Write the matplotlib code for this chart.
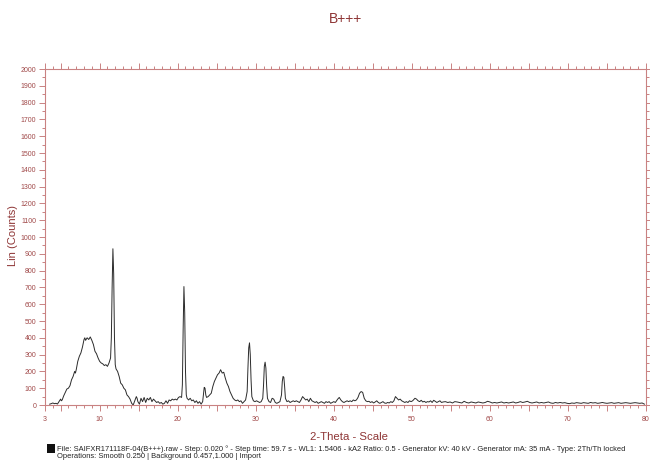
import matplotlib

matplotlib.use("Agg")

import matplotlib.pyplot as plt
from matplotlib.patches import Rectangle
from matplotlib.ticker import FixedLocator, MultipleLocator

# --------------------------------------------------------------------------- #
# Data
# --------------------------------------------------------------------------- #

two_theta = [
    3.6, 3.8, 4.0, 4.2, 4.4, 4.6, 4.8, 5.0, 5.1, 5.2,
    5.4, 5.6, 5.8, 6.0, 6.2, 6.4, 6.6, 6.8, 6.9, 7.0,
    7.2, 7.4, 7.6, 7.8, 8.0, 8.1, 8.2, 8.4, 8.6, 8.8,
    9.0, 9.2, 9.4, 9.6, 9.8, 10.0, 10.2, 10.4, 10.6, 10.8,
    11.0, 11.2, 11.4, 11.5, 11.6, 11.7, 11.8, 11.9, 12.0, 12.1,
    12.3, 12.5, 12.7, 12.9, 13.1, 13.3, 13.5, 13.7, 13.9, 14.1,
    14.3, 14.5, 14.7, 14.8, 14.9, 15.1, 15.3, 15.5, 15.7, 15.9,
    16.1, 16.3, 16.5, 16.7, 16.9, 17.1, 17.3, 17.5, 17.7, 17.9,
    18.1, 18.3, 18.5, 18.7, 18.9, 19.1, 19.3, 19.5, 19.7, 19.9,
    20.1, 20.3, 20.5, 20.6, 20.7, 20.8, 20.9, 21.0, 21.1, 21.2,
    21.4, 21.6, 21.8, 22.0, 22.2, 22.4, 22.6, 22.8, 23.0, 23.2,
    23.3, 23.4, 23.5, 23.6, 23.7, 23.9, 24.1, 24.3, 24.5, 24.7,
    24.9, 25.1, 25.3, 25.5, 25.7, 25.9, 26.1, 26.3, 26.5, 26.7,
    26.9, 27.1, 27.3, 27.5, 27.7, 27.9, 28.1, 28.3, 28.5, 28.7,
    28.9, 29.0, 29.1, 29.2, 29.3, 29.4, 29.5, 29.7, 29.9, 30.1,
    30.3, 30.5, 30.7, 30.9, 31.0, 31.1, 31.2, 31.3, 31.4, 31.5,
    31.7, 31.9, 32.1, 32.3, 32.5, 32.7, 32.9, 33.1, 33.3, 33.4,
    33.5, 33.6, 33.7, 33.8, 34.0, 34.2, 34.4, 34.6, 34.8, 35.0,
    35.2, 35.4, 35.6, 35.8, 36.0, 36.2, 36.4, 36.6, 36.8, 37.0,
    37.2, 37.4, 37.6, 37.8, 38.0, 38.2, 38.4, 38.6, 38.8, 39.0,
    39.2, 39.4, 39.6, 39.8, 40.0, 40.2, 40.5, 40.7, 40.9, 41.1,
    41.3, 41.5, 41.7, 41.9, 42.1, 42.3, 42.5, 42.7, 42.9, 43.1,
    43.3, 43.5, 43.7, 43.9, 44.1, 44.3, 44.5, 44.7, 44.9, 45.1,
    45.3, 45.5, 45.7, 45.9, 46.1, 46.3, 46.5, 46.7, 46.9, 47.1,
    47.3, 47.5, 47.7, 47.9, 48.1, 48.3, 48.5, 48.7, 48.9, 49.1,
    49.3, 49.5, 49.7, 49.9, 50.1, 50.4, 50.6, 50.8, 51.0, 51.2,
    51.4, 51.6, 51.8, 52.0, 52.2, 52.4, 52.6, 52.8, 53.0, 53.2,
    53.4, 53.6, 53.8, 54.0, 54.3, 54.6, 54.9, 55.2, 55.5, 55.8,
    56.1, 56.4, 56.7, 57.0, 57.3, 57.6, 57.9, 58.2, 58.5, 58.8,
    59.1, 59.4, 59.7, 60.0, 60.3, 60.6, 60.9, 61.2, 61.5, 61.8,
    62.1, 62.4, 62.7, 63.0, 63.3, 63.6, 63.9, 64.2, 64.5, 64.8,
    65.1, 65.4, 65.7, 66.0, 66.3, 66.6, 66.9, 67.2, 67.5, 67.8,
    68.1, 68.4, 68.7, 69.0, 69.3, 69.6, 69.9, 70.2, 70.5, 70.8,
    71.1, 71.4, 71.7, 72.0, 72.3, 72.6, 72.9, 73.2, 73.5, 73.8,
    74.1, 74.4, 74.7, 75.0, 75.3, 75.6, 75.9, 76.2, 76.5, 76.8,
    77.1, 77.4, 77.7, 78.0, 78.3, 78.6, 78.9, 79.2, 79.5, 79.8,
]

counts = [
    5, 8, 12, 8, 10, 6, 20, 35, 25, 30,
    55, 75, 95, 100, 115, 150, 170, 200, 190, 210,
    260, 290, 310, 345, 390, 400, 385, 400, 390, 405,
    385, 360, 320, 305, 280, 260, 250, 245, 235, 240,
    230, 250, 280, 400, 700, 930, 780, 400, 240, 215,
    200, 170, 130, 120, 100, 90, 60, 50, 35, 10,
    0, 25, 50, 40, 20, 5, 40, 20, 45, 15,
    40, 30, 45, 20, 35, 25, 15, 20, 10, 15,
    5, 10, 25, 10, 30, 25, 35, 30, 35, 30,
    45, 50, 45, 120, 450, 705, 550, 200, 60, 40,
    30, 40, 25, 30, 15, 25, 10, 20, 5, 20,
    60, 105, 100, 60, 45, 50, 60, 70, 110, 140,
    160, 180, 190, 210, 190, 195, 160, 130, 110, 80,
    60, 40, 30, 25, 30, 20, 25, 10, 20, 30,
    80, 220, 340, 370, 300, 150, 50, 25, 20, 25,
    20, 15, 20, 40, 120, 230, 255, 220, 110, 40,
    20, 15, 40, 35, 15, 10, 15, 20, 60, 140,
    170, 165, 110, 40, 20, 25, 15, 20, 25, 20,
    25, 20, 15, 30, 50, 40, 30, 35, 20, 40,
    25, 20, 15, 20, 10, 15, 20, 15, 10, 20,
    15, 20, 10, 15, 20, 15, 35, 45, 30, 20,
    15, 20, 25, 20, 25, 20, 30, 25, 30, 45,
    70, 80, 75, 40, 25, 20, 22, 15, 20, 12,
    18, 25, 15, 10, 15, 20, 12, 10, 15, 12,
    20, 15, 25, 50, 40, 30, 35, 25, 20, 15,
    20, 15, 25, 20, 25, 40, 35, 25, 20, 28,
    18, 22, 15, 20, 18, 25, 15, 28, 22, 15,
    20, 25, 15, 18, 20, 15, 18, 12, 20, 18,
    15, 12, 22, 15, 12, 18, 15, 12, 18, 15,
    12, 15, 22, 18, 12, 15, 12, 15, 18, 12,
    15, 12, 15, 18, 12, 15, 20, 15, 18, 22,
    15, 12, 15, 18, 12, 15, 12, 15, 18, 12,
    10, 15, 12, 15, 12, 14, 10, 8, 12, 10,
    14, 12, 10, 14, 12, 10, 15, 12, 14, 10,
    12, 15, 12, 10, 12, 14, 10, 12, 14, 10,
    12, 14, 12, 10, 12, 14, 12, 10, 12, 5,
]

x_major = [3, 5, 10, 15, 20, 25, 30, 35, 40, 45, 50, 55, 60, 65, 70, 75, 80]
x_labels = ["3", "", "10", "", "20", "", "30", "", "40", "", "50", "", "60", "",
            "70", "", "80"]
y_major = list(range(0, 2001, 100))

title = "B+++"
x_title = "2-Theta - Scale"
y_title = "Lin (Counts)"
footer_1 = ("File: SAIFXR171118F-04(B+++).raw - Step: 0.020 ° - Step time: 59.7 s - "
            "WL1: 1.5406 - kA2 Ratio: 0.5 - Generator kV: 40 kV - Generator mA: 35 mA - "
            "Type: 2Th/Th locked")
footer_2 = "Operations: Smooth 0.250 | Background 0.457,1.000 | Import"

assert len(two_theta) == len(counts)

# --------------------------------------------------------------------------- #
# Theme
# --------------------------------------------------------------------------- #

_AXIS = "#c98282"    # spines and ticks
_TICKTXT = "#a04848"
_TEXT = "#8e3535"
_LINE = "#2b2b2b"

plt.rcParams["font.family"] = ["Liberation Sans", "DejaVu Sans"]

fig = plt.figure(figsize=(6.5, 4.61), dpi=100, facecolor="white")
ax = fig.add_axes([45 / 650, 56 / 461, 601 / 650, 336 / 461])

ax.plot(two_theta, counts, color=_LINE, linewidth=0.7)

ax.set_xlim(3, 80)
ax.set_ylim(0, 2000)

ax.xaxis.set_major_locator(FixedLocator(x_major))
ax.set_xticklabels(x_labels)
ax.xaxis.set_minor_locator(MultipleLocator(1))
ax.yaxis.set_major_locator(FixedLocator(y_major))
ax.yaxis.set_minor_locator(MultipleLocator(50))

for side in ("left", "right", "top", "bottom"):
    ax.spines[side].set_color(_AXIS)
    ax.spines[side].set_linewidth(0.8)

ax.tick_params(which="both", direction="out", color=_AXIS, width=0.7,
               top=True, right=True, labeltop=False, labelright=False)
ax.tick_params(which="major", length=4.2, labelsize=5, labelcolor=_TICKTXT)
ax.tick_params(which="minor", length=2.3)
ax.tick_params(axis="x", which="major", pad=4)
ax.tick_params(axis="y", which="major", pad=2)

fig.text(345 / 650, 1 - 19 / 461, title, ha="center", va="center",
         fontsize=10, color=_TEXT)
fig.text(349 / 650, 1 - 437 / 461, x_title, ha="center", va="center",
         fontsize=8.2, color=_TEXT)
fig.text(13 / 650, 1 - 236 / 461, y_title, ha="center", va="center",
         rotation=90, fontsize=8, color=_TEXT)

# little instrument icon in front of the file line
fig.patches.append(Rectangle((47 / 650, 1 - 453 / 461), 8 / 650, 9 / 461,
                             transform=fig.transFigure, facecolor="#111111",
                             edgecolor="none"))
fig.text(57 / 650, 1 - 449 / 461, footer_1, ha="left", va="center",
         fontsize=5.4, color="#222222")
fig.text(57 / 650, 1 / 461, footer_2, ha="left", va="bottom",
         fontsize=5.4, color="#222222")

fig.savefig("out.png", dpi=100, facecolor="white")
